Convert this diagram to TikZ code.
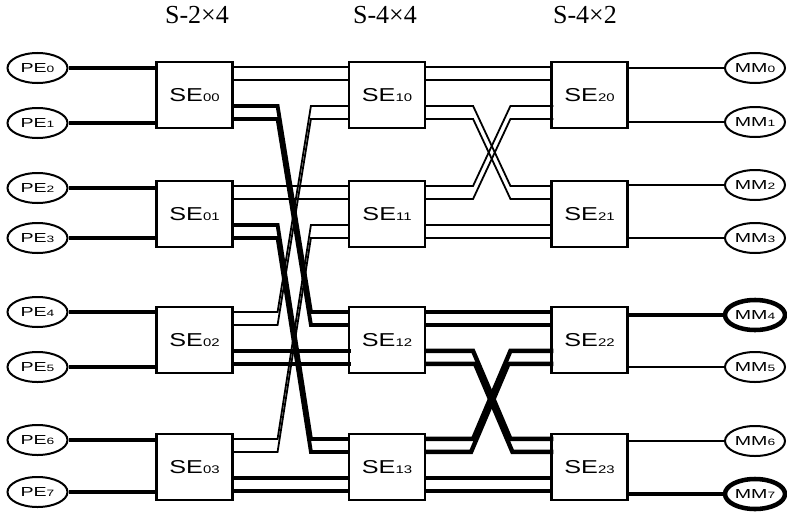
\documentclass[tikz,border=0pt]{standalone}
\usepackage{fontspec}
\usepackage{graphicx}
\setmainfont{Liberation Serif}
\setsansfont{Liberation Sans}
\usetikzlibrary{shapes.geometric,calc}

\newcommand\selab[1]{\scalebox{1.35}[1]{\sffamily\fontsize{14}{15}\selectfont SE\raisebox{-0.5pt}{\fontsize{8.3}{9}\selectfont #1}}}
\newcommand\unitlab[2]{\scalebox{1.5}[1]{\sffamily\fontsize{9.8}{10}\selectfont #1\raisebox{-0.5pt}{\fontsize{6.9}{7}\selectfont #2}}}
% straight link: style, src, src dy, dst, dst dy, end extension
\newcommand\linkse[6]{\draw[#1] ($(#2.north east)+(0,#3)$) -- ($(#4.north west)+(#6,#5)$);}
% crossing link: style, src, src dy, dst, dst dy, bend out, bend in, end extension
\newcommand\xlinkse[8]{\draw[#1] ($(#2.north east)+(0,#3)$) -- ($(#2.north east)+(#6,#3)$) -- ($(#4.north west)+(-#7,#5)$) -- ($(#4.north west)+(#8,#5)$);}

\begin{document}
\begin{tikzpicture}[x=0.75pt,y=-0.75pt,
  sebox/.style={draw, line width=1.6pt, rectangle, minimum width=57pt, minimum height=49.5pt, inner sep=0pt, fill=white},
  unit/.style={draw, ellipse, line width=1.5pt, minimum width=45pt, minimum height=22.5pt, inner sep=0pt, fill=white},
  unitbold/.style={unit, line width=3.4pt},
  thinw/.style={line width=1.35pt},
  thickw/.style={line width=2.9pt},
  thickx/.style={line width=3.3pt},
  ttl/.style={font=\fontsize{19.5}{20}\selectfont, anchor=base, inner sep=0pt}
]
\useasboundingbox[fill=white] (0,0) rectangle (787,517);

% titles
\node[ttl] (t0) at (197,23.5) {S-2×4};
\node[ttl] (t1) at (385,23.5) {S-4×4};
\node[ttl] (t2) at (585,23.5) {S-4×2};

% switching elements
\node[sebox] (SE00) at (194.5,95) {\selab{00}};
\node[sebox] (SE01) at (194.5,214) {\selab{01}};
\node[sebox] (SE02) at (194.5,340) {\selab{02}};
\node[sebox] (SE03) at (194.5,467) {\selab{03}};
\node[sebox] (SE10) at (387,95) {\selab{10}};
\node[sebox] (SE11) at (387,214) {\selab{11}};
\node[sebox] (SE12) at (387,340) {\selab{12}};
\node[sebox] (SE13) at (387,467) {\selab{13}};
\node[sebox] (SE20) at (589.5,95) {\selab{20}};
\node[sebox] (SE21) at (589.5,214) {\selab{21}};
\node[sebox] (SE22) at (589.5,340) {\selab{22}};
\node[sebox] (SE23) at (589.5,467) {\selab{23}};

% processing elements
\node[unit] (PE0) at (37.5,68) {\unitlab{PE}{0}};
\node[unit] (PE1) at (37.5,123) {\unitlab{PE}{1}};
\node[unit] (PE2) at (37.5,188) {\unitlab{PE}{2}};
\node[unit] (PE3) at (37.5,238) {\unitlab{PE}{3}};
\node[unit] (PE4) at (37.5,312) {\unitlab{PE}{4}};
\node[unit] (PE5) at (37.5,367) {\unitlab{PE}{5}};
\node[unit] (PE6) at (37.5,440) {\unitlab{PE}{6}};
\node[unit] (PE7) at (37.5,492) {\unitlab{PE}{7}};

% memory modules
\node[unit] (MM0) at (755,68) {\unitlab{MM}{0}};
\node[unit] (MM1) at (755,122) {\unitlab{MM}{1}};
\node[unit] (MM2) at (755,185) {\unitlab{MM}{2}};
\node[unit] (MM3) at (755,238) {\unitlab{MM}{3}};
\node[unitbold] (MM4) at (755,315) {\unitlab{MM}{4}};
\node[unit] (MM5) at (755,367) {\unitlab{MM}{5}};
\node[unit] (MM6) at (755,441) {\unitlab{MM}{6}};
\node[unitbold] (MM7) at (755,494) {\unitlab{MM}{7}};

% PE -> stage 0
\draw[thickw] (PE0.east) -- (PE0.east -| SE00.west);
\draw[thickw] (PE1.east) -- (PE1.east -| SE00.west);
\draw[thickw] (PE2.east) -- (PE2.east -| SE01.west);
\draw[thickw] (PE3.east) -- (PE3.east -| SE01.west);
\draw[thickw] (PE4.east) -- (PE4.east -| SE02.west);
\draw[thickw] (PE5.east) -- (PE5.east -| SE02.west);
\draw[thickw] (PE6.east) -- (PE6.east -| SE03.west);
\draw[thickw] (PE7.east) -- (PE7.east -| SE03.west);

% stage 2 -> MM
\draw[thinw] (MM0.west -| SE20.east) -- (MM0.west);
\draw[thinw] (MM1.west -| SE20.east) -- (MM1.west);
\draw[thinw] (MM2.west -| SE21.east) -- (MM2.west);
\draw[thinw] (MM3.west -| SE21.east) -- (MM3.west);
\draw[thickw] (MM4.west -| SE22.east) -- (MM4.west);
\draw[thinw] (MM5.west -| SE22.east) -- (MM5.west);
\draw[thinw] (MM6.west -| SE23.east) -- (MM6.west);
\draw[thickw] (MM7.west -| SE23.east) -- (MM7.west);

% stage 0 -> stage 1
\linkse{thinw}{SE00}{6}{SE10}{6}{0}
\linkse{thinw}{SE00}{19}{SE10}{19}{0}
\xlinkse{thickw}{SE00}{45}{SE12}{6}{44}{37}{0}
\xlinkse{thickw}{SE00}{58}{SE12}{19}{44}{37}{0}
\linkse{thinw}{SE01}{6}{SE11}{6}{0}
\linkse{thinw}{SE01}{19}{SE11}{19}{0}
\xlinkse{thickw}{SE01}{45}{SE13}{6}{44}{37}{0}
\xlinkse{thickw}{SE01}{58}{SE13}{19}{44}{37}{0}
\xlinkse{thinw}{SE02}{6}{SE10}{45}{44}{37}{0}
\xlinkse{thinw}{SE02}{19}{SE10}{58}{44}{37}{0}
\linkse{thickw}{SE02}{45}{SE12}{45}{3}
\linkse{thickw}{SE02}{58}{SE12}{58}{3}
\xlinkse{thinw}{SE03}{6}{SE11}{45}{44}{37}{0}
\xlinkse{thinw}{SE03}{19}{SE11}{58}{44}{37}{0}
\linkse{thickw}{SE03}{45}{SE13}{45}{0}
\linkse{thickw}{SE03}{58}{SE13}{58}{0}

% stage 1 -> stage 2
\linkse{thinw}{SE10}{6}{SE20}{6}{0}
\linkse{thinw}{SE10}{19}{SE20}{19}{0}
\xlinkse{thinw}{SE10}{45}{SE21}{6}{47}{40}{0}
\xlinkse{thinw}{SE10}{58}{SE21}{19}{47}{40}{0}
\xlinkse{thinw}{SE11}{6}{SE20}{45}{47}{40}{3}
\xlinkse{thinw}{SE11}{19}{SE20}{58}{47}{40}{3}
\linkse{thinw}{SE11}{45}{SE21}{45}{0}
\linkse{thinw}{SE11}{58}{SE21}{58}{0}
\linkse{thickw}{SE12}{6}{SE22}{6}{3}
\linkse{thickw}{SE12}{19}{SE22}{19}{3}
\xlinkse{thickx}{SE12}{45}{SE23}{6}{47}{40}{3}
\xlinkse{thickx}{SE12}{58}{SE23}{19}{49}{38}{3}
\xlinkse{thickx}{SE13}{6}{SE22}{45}{47}{40}{3}
\xlinkse{thickx}{SE13}{19}{SE22}{58}{45}{42}{3}
\linkse{thickw}{SE13}{45}{SE23}{45}{3}
\linkse{thickw}{SE13}{58}{SE23}{58}{3}
\end{tikzpicture}
\end{document}
